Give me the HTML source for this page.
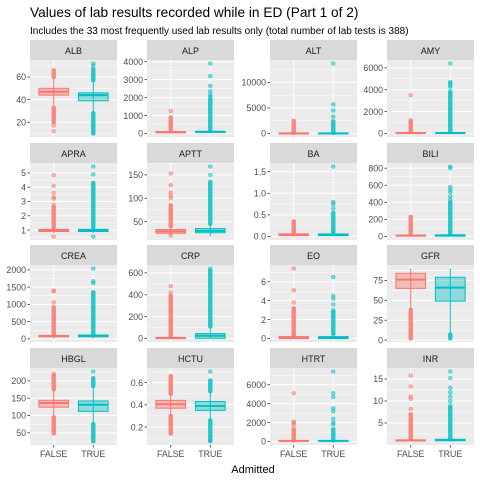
<!DOCTYPE html>
<html><head><meta charset="utf-8"><style>
body{margin:0;background:#fff}
svg{display:block;font-family:"Liberation Sans",sans-serif}
</style></head><body>
<svg id="chart" width="480" height="480" viewBox="0 0 480 480">
<text x="30" y="17" font-size="13.7" fill="#000">Values of lab results recorded while in ED (Part 1 of 2)</text>
<text x="30" y="34" font-size="10" fill="#000">Includes the 33 most frequently used lab results only (total number of lab tests is 388)</text>
<text x="253" y="473" font-size="11" text-anchor="middle" fill="#000">Admitted</text>
</svg>
<script>
const labs=["ALB","ALP","ALT","AMY","APRA","APTT","BA","BILI","CREA","CRP","EO","GFR","HBGL","HCTU","HTRT","INR"];
const ticks=[[20,40,60],[0,1000,2000,3000,4000],[0,5000,10000],[0,2000,4000,6000],[1,2,3,4,5],[50,100,150],[0,0.5,1,1.5],[0,200,400,600,800],[0,500,1000,1500,2000],[0,200,400,600],[0,2,4,6],[0,25,50,75],[50,100,150,200],[0.2,0.4,0.6],[0,2000,4000,6000],[5,10,15]];
const tickLabels=[["20","40","60"],["0","1000","2000","3000","4000"],["0","5000","10000"],["0","2000","4000","6000"],["1","2","3","4","5"],["50","100","150"],["0.0","0.5","1.0","1.5"],["0","200","400","600","800"],["0","500","1000","1500","2000"],["0","200","400","600"],["0","2","4","6"],["0","25","50","75"],["50","100","150","200"],["0.2","0.4","0.6"],["0","2000","4000","6000"],["5","10","15"]];
const categories=["FALSE","TRUE"];
// [whiskerLo, q1, median, q3, whiskerHi]
const falseBox=[[35,44,47,50,59],[0,40,70,110,200],[0,15,25,40,100],[0,30,50,80,100],[0.8,0.9,1,1.05,1.2],[20,25,29,33,40],[0,0.02,0.04,0.06,0.1],[0,5,10,15,30],[10,60,80,100,150],[0,1,4,10,20],[0,0,0.1,0.2,0.4],[38,65,76,84,90],[95,124,136,144,175],[0.3,0.37,0.405,0.44,0.5],[0,30,60,100,100],[0.8,0.95,1.05,1.15,1.4]];
const trueBox=[[29,39,44,46,56],[0,60,90,120,200],[0,15,30,45,100],[0,30,50,80,100],[0.8,0.9,1,1.05,1.2],[18,26,30,35,45],[0,0.02,0.04,0.06,0.1],[0,5,10,20,40],[10,60,85,110,150],[0,2,25,45,110],[0,0,0.1,0.2,0.5],[7,49,66,79,90],[75,112,131,142,185],[0.26,0.35,0.39,0.43,0.52],[0,30,60,100,100],[0.8,1,1.1,1.3,1.5]];
const falseDense=[[[20,33],[60,66]],[[200,900]],[[100,2500]],[[100,900]],[[1.2,2.6]],[[40,85]],[[0.1,0.35]],[[30,230]],[[150,920]],[[20,390]],[[0.4,3.2]],[[2,38]],[[48,95],[175,215]],[[0.14,0.3],[0.5,0.66]],[[100,1200]],[[1.4,7]]];
const trueDense=[[[10,28],[57,67]],[[200,1900]],[[100,2400]],[[100,3700]],[[1.2,4.3]],[[45,135]],[[0.1,0.55]],[[40,400]],[[150,1350]],[[110,620]],[[0.5,2.8]],[[2,7]],[[25,75],[185,208]],[[0.08,0.26],[0.52,0.62]],[[100,1300]],[[1.5,8.5]]];
const falsePts=[[17,12],[1250],[],[1100,1200,3500],[2.75,3.2,3.3,3.6,4.1,4.85,0.55],[100,105,112,128,153,20],[],[],[1060,1380,1400],[420,480],[3.8,5.1,7.4],[],[220],[],[1400,1800,2000,2100,5100],[8.2,10.5,11,13.3,15.8]];
const truePts=[[70,72],[2050,2150,2350,2650,3200,3900],[3300,4500,5700,13700],[3900,4300,4400,4600,4700,6400],[4.9,5.45,0.55],[150,168],[0.65,0.75,0.8,1.62],[430,470,520,550,580,800,820],[1620,1670,2040],[640],[3,3.6,4.2,4.5,6.5],[],[227],[0.07,0.7],[1800,2000,2400,3200,3500,4700,5100,7400],[9,10,11,12,13,15.2,16.7]];

const NS="http://www.w3.org/2000/svg";
const svg=document.getElementById('chart');
const colX=[30,147,270,387], rowY=[40,143,245,348], PW=87, SH=20, PH=77;
const colors=["#F8766D","#00BFC4"];
function mk(tag,attrs,parent){const e=document.createElementNS(NS,tag);for(const k in attrs)e.setAttribute(k,attrs[k]);(parent||svg).appendChild(e);return e;}
function xScale(i){return (i+1-0.4)/2.2*PW;}

labs.forEach((lab,p)=>{
  const px=colX[p%4], sy=rowY[Math.floor(p/4)], py=sy+SH;
  const g=mk('g',{});
  
  
  const boxes=[falseBox[p],trueBox[p]], dens=[falseDense[p],trueDense[p]], pts=[falsePts[p],truePts[p]];
  let all=[];boxes.forEach(b=>all.push(...b));dens.forEach(d=>d.forEach(r=>all.push(...r)));pts.forEach(a=>all.push(...a));
  const mn=Math.min(...all), mx=Math.max(...all), pad=(mx-mn)*0.05, lo=mn-pad, hi=mx+pad;
  const y=v=>py+PH-(v-lo)/(hi-lo)*PH;
  const strip=mk('rect',{x:px,y:sy,width:PW,height:SH,fill:'#D9D9D9'},g);
  
  
  const st=mk('text',{x:px+PW/2,y:sy+14,'font-size':9,'text-anchor':'middle',fill:'#1A1A1A'},g);st.textContent=lab;
  
  
  mk('rect',{x:px,y:py,width:PW,height:PH,fill:'#EBEBEB'},g);
  const tk=ticks[p];const step=tk.length>1?tk[1]-tk[0]:1;
  for(let v=tk[0]-step/2;v<=hi;v+=step){if(v>=lo&&v<=hi)mk('line',{x1:px,x2:px+PW,y1:y(v),y2:y(v),stroke:'#fff','stroke-width':0.5},g);}
  tk.forEach((v,i)=>{
    mk('line',{x1:px,x2:px+PW,y1:y(v),y2:y(v),stroke:'#fff','stroke-width':1},g);
    mk('line',{x1:px-2.5,x2:px,y1:y(v),y2:y(v),stroke:'#333','stroke-width':0.8},g);
    const t=mk('text',{x:px-4,y:y(v)+3.2,'font-size':8.8,'text-anchor':'end',fill:'#4D4D4D'},g);t.textContent=tickLabels[p][i];
    
    
  });
  categories.forEach((c,ci)=>{
    const cx=px+xScale(ci);
    mk('line',{x1:cx,x2:cx,y1:py,y2:py+PH,stroke:'#fff','stroke-width':1},g);
  });
  categories.forEach((c,ci)=>{
    const cx=px+xScale(ci), col=colors[ci], b=boxes[ci], bw=0.75/2.2*PW;
    mk('line',{x1:cx,x2:cx,y1:y(b[0]),y2:y(b[4]),stroke:col,'stroke-width':1},g);
    dens[ci].forEach(r=>{
      const d=mk('rect',{x:cx-2.2,y:y(r[1])-2,width:4.4,height:Math.max(y(r[0])-y(r[1])+4,4),rx:2,fill:col,'fill-opacity':0.85},g);
      
      
    });
    pts[ci].forEach(v=>{
      const o=mk('circle',{cx:cx,cy:y(v),r:2,fill:col,'fill-opacity':0.55,stroke:col,'stroke-opacity':0.6,'stroke-width':0.5},g);
      
      
    });
    const bx=mk('rect',{x:cx-bw/2,y:y(b[3]),width:bw,height:Math.max(y(b[1])-y(b[3]),0.5),fill:col,'fill-opacity':0.4,stroke:col,'stroke-width':1},g);
    
    
    mk('line',{x1:cx-bw/2,x2:cx+bw/2,y1:y(b[2]),y2:y(b[2]),stroke:col,'stroke-width':2},g);
    if(p>=12){
      mk('line',{x1:cx,x2:cx,y1:py+PH,y2:py+PH+2.5,stroke:'#333','stroke-width':0.8},g);
      const xl=mk('text',{x:cx,y:py+PH+12,'font-size':8.8,'text-anchor':'middle',fill:'#4D4D4D'},g);xl.textContent=c;
      
      
    }
  });
});
</script>
</body></html>
